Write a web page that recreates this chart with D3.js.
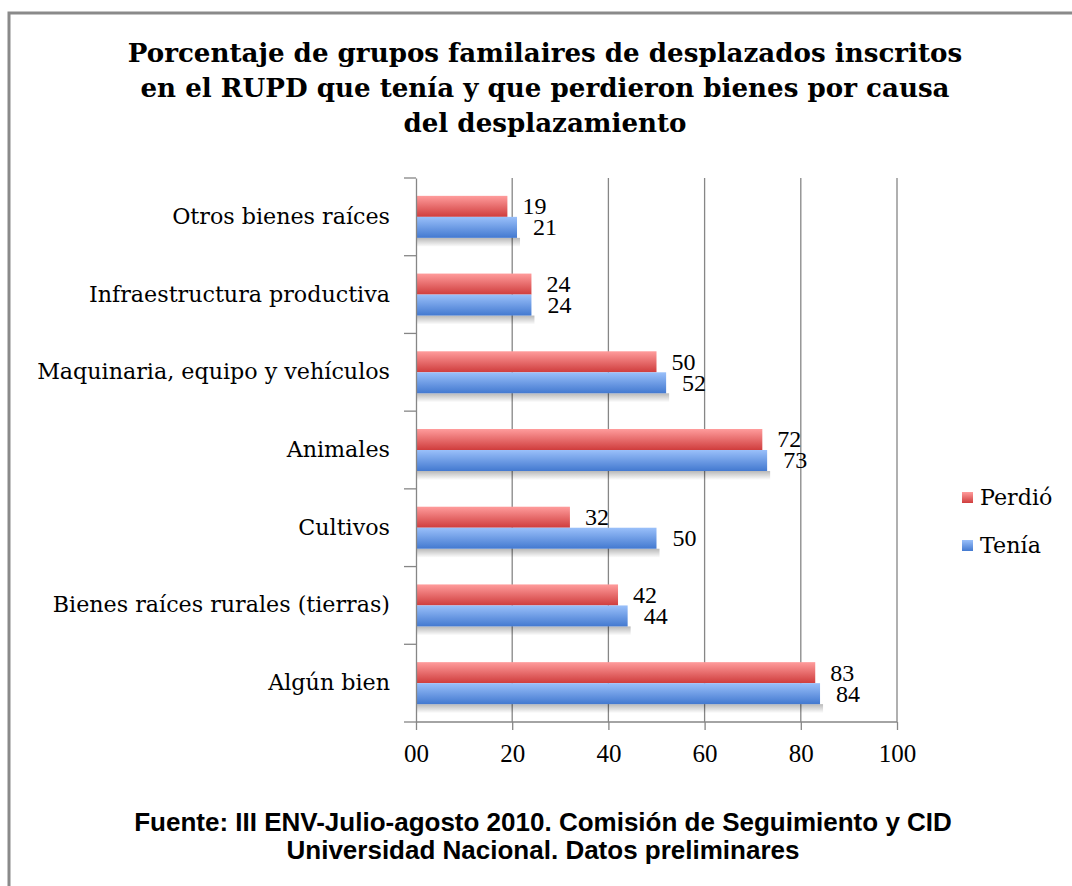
<!DOCTYPE html>
<html lang="es">
<head>
<meta charset="utf-8" />
<script src="https://cdnjs.cloudflare.com/ajax/libs/d3/7.8.5/d3.min.js"></script>
<style>
  body { margin: 0; background: #fff; }
  svg text { fill: #000; }
</style>
</head>
<body>
<div id="chart"></div>
<script>
// data (top to bottom)
var categories = ["Otros bienes raíces", "Infraestructura productiva", "Maquinaria, equipo y vehículos",
                  "Animales", "Cultivos ", "Bienes raíces rurales (tierras)", "Algún bien"];
var perdio = [19, 24, 50, 72, 32, 42, 83];
var tenia = [21, 24, 52, 73, 50, 44, 84];
var seriesNames = ["Perdió", "Tenía"];
var xTicks = [0, 20, 40, 60, 80, 100];
var titleLines = ["Porcentaje de grupos familaires de desplazados inscritos",
                  "en el RUPD que tenía y que perdieron bienes por causa",
                  "del desplazamiento"];
var footLines = ["Fuente: III ENV-Julio-agosto 2010. Comisión de Seguimiento y CID",
                 "Universidad Nacional. Datos preliminares"];

var width = 1072, height = 886;
var plot = { left: 416, right: 897, top: 178, bottom: 722 };
var serif = "'DejaVu Serif', serif";
var numFont = "'Liberation Serif', serif";

var svg = d3.select("#chart").append("svg")
    .attr("width", width).attr("height", height);

// pick a font size so that the widest text of a selection gets a given width
function fit(sel, target) {
    var w = d3.max(sel.nodes(), function (n) { return n.getComputedTextLength(); });
    var size = parseFloat(sel.style("font-size"));
    sel.style("font-size", (size * target / w).toFixed(2) + "px");
}

var defs = svg.append("defs");
function grad(id, c1, c2) {
    var g = defs.append("linearGradient").attr("id", id)
        .attr("x1", 0).attr("y1", 0).attr("x2", 0).attr("y2", 1);
    g.append("stop").attr("offset", "0%").attr("stop-color", c1);
    g.append("stop").attr("offset", "100%").attr("stop-color", c2);
}
grad("gRed", "#ff9c9c", "#cf3d3d");
grad("gBlue", "#9ac0fa", "#4379d0");
grad("gShadow", "rgba(0,0,0,0.28)", "rgba(0,0,0,0)");

// outer frame (runs off the right and bottom)
svg.append("path")
    .attr("d", "M9," + (height + 5) + " V13 H" + (width + 5))
    .attr("fill", "none").attr("stroke", "#8a8a8a").attr("stroke-width", 3);

// title
var title = svg.append("g").selectAll("text").data(titleLines).enter().append("text")
    .attr("x", 545).attr("y", function (d, i) { return 62 + i * 35; })
    .attr("text-anchor", "middle")
    .style("font-family", serif)
    .style("font-weight", "bold").style("font-size", "26px")
    .text(function (d) { return d; });
fit(title, 835);

var x = d3.scaleLinear().domain([0, 100]).range([plot.left, plot.right]);
var y = d3.scaleBand().domain(categories).range([plot.top, plot.bottom]);
var ys = d3.scaleBand().domain(seriesNames).range([0, y.bandwidth()]).paddingOuter(0.85);

// gridlines
svg.append("g").selectAll("line").data(xTicks.slice(1)).enter().append("line")
    .attr("x1", x).attr("x2", x)
    .attr("y1", plot.top).attr("y2", plot.bottom)
    .attr("stroke", "#868686").attr("stroke-width", 1.3);

// bars
var rows = categories.map(function (c, i) {
    return { cat: c, values: [{ s: "Perdió", v: perdio[i] }, { s: "Tenía", v: tenia[i] }] };
});
var groups = svg.append("g").selectAll("g").data(rows).enter().append("g")
    .attr("transform", function (d) { return "translate(0," + y(d.cat) + ")"; });

// soft shadow below each pair
groups.append("rect")
    .attr("x", plot.left)
    .attr("y", ys("Tenía") + ys.bandwidth())
    .attr("width", function (d) { return x(d.values[1].v) - plot.left + 3; })
    .attr("height", 9)
    .attr("fill", "url(#gShadow)");

groups.selectAll("rect.bar").data(function (d) { return d.values; }).enter().append("rect")
    .attr("class", "bar")
    .attr("x", plot.left)
    .attr("y", function (d) { return ys(d.s); })
    .attr("width", function (d) { return x(d.v) - plot.left; })
    .attr("height", ys.bandwidth())
    .attr("fill", function (d) { return d.s === "Perdió" ? "url(#gRed)" : "url(#gBlue)"; });

groups.selectAll("text.val").data(function (d) { return d.values; }).enter().append("text")
    .attr("class", "val")
    .attr("x", function (d) { return x(d.v) + (d.s === "Perdió" ? 15 : 16); })
    .attr("y", function (d) { return ys(d.s) + ys.bandwidth() / 2 + 8; })
    .style("font-family", numFont).style("font-size", "24px")
    .text(function (d) { return d.v; });

// y axis
var yAxis = svg.append("g").attr("transform", "translate(" + plot.left + ",0)")
    .call(d3.axisLeft(y).tickSize(0).tickFormat(""));
yAxis.select(".domain").attr("stroke", "#868686").attr("stroke-width", 1.3);
svg.append("g").selectAll("line").data(d3.range(categories.length + 1)).enter().append("line")
    .attr("x1", plot.left - 12).attr("x2", plot.left)
    .attr("y1", function (i) { return plot.top + i * y.step(); })
    .attr("y2", function (i) { return plot.top + i * y.step(); })
    .attr("stroke", "#868686").attr("stroke-width", 1.3);
var catText = svg.append("g").selectAll("text").data(categories).enter().append("text")
    .attr("x", 390)
    .attr("y", function (d) { return y(d) + y.bandwidth() / 2 + 7; })
    .attr("text-anchor", "end")
    .style("font-family", serif).style("font-size", "20px")
    .text(function (d) { return d; });
fit(catText, 353);

// x axis
var xAxis = svg.append("g").attr("transform", "translate(0," + plot.bottom + ")")
    .call(d3.axisBottom(x).tickValues(xTicks).tickSize(8).tickPadding(14)
        .tickFormat(function (d) { return d === 0 ? "00" : d; }));
xAxis.select(".domain").attr("stroke", "#868686").attr("stroke-width", 1.3).attr("d", "M" + plot.left + ",0H" + plot.right);
xAxis.selectAll(".tick line").attr("stroke", "#868686").attr("stroke-width", 1.3);
xAxis.selectAll(".tick text")
    .style("font-family", numFont).style("font-size", "25px");

// legend
var leg = svg.append("g").selectAll("g").data(seriesNames).enter().append("g")
    .attr("transform", function (d, i) { return "translate(962," + (492 + i * 48) + ")"; });
leg.append("rect").attr("width", 11).attr("height", 11)
    .attr("fill", function (d) { return d === "Perdió" ? "url(#gRed)" : "url(#gBlue)"; });
leg.append("text").attr("x", 18).attr("y", 13)
    .style("font-family", serif).style("font-size", catText.style("font-size"))
    .text(function (d) { return d; });

// footer
svg.append("g").selectAll("text").data(footLines).enter().append("text")
    .attr("x", 543).attr("y", function (d, i) { return 831 + i * 28; })
    .attr("text-anchor", "middle")
    .style("font-family", "'Liberation Sans', sans-serif")
    .style("font-weight", "bold").style("font-size", "26px")
    .text(function (d) { return d; });
</script>
</body>
</html>
